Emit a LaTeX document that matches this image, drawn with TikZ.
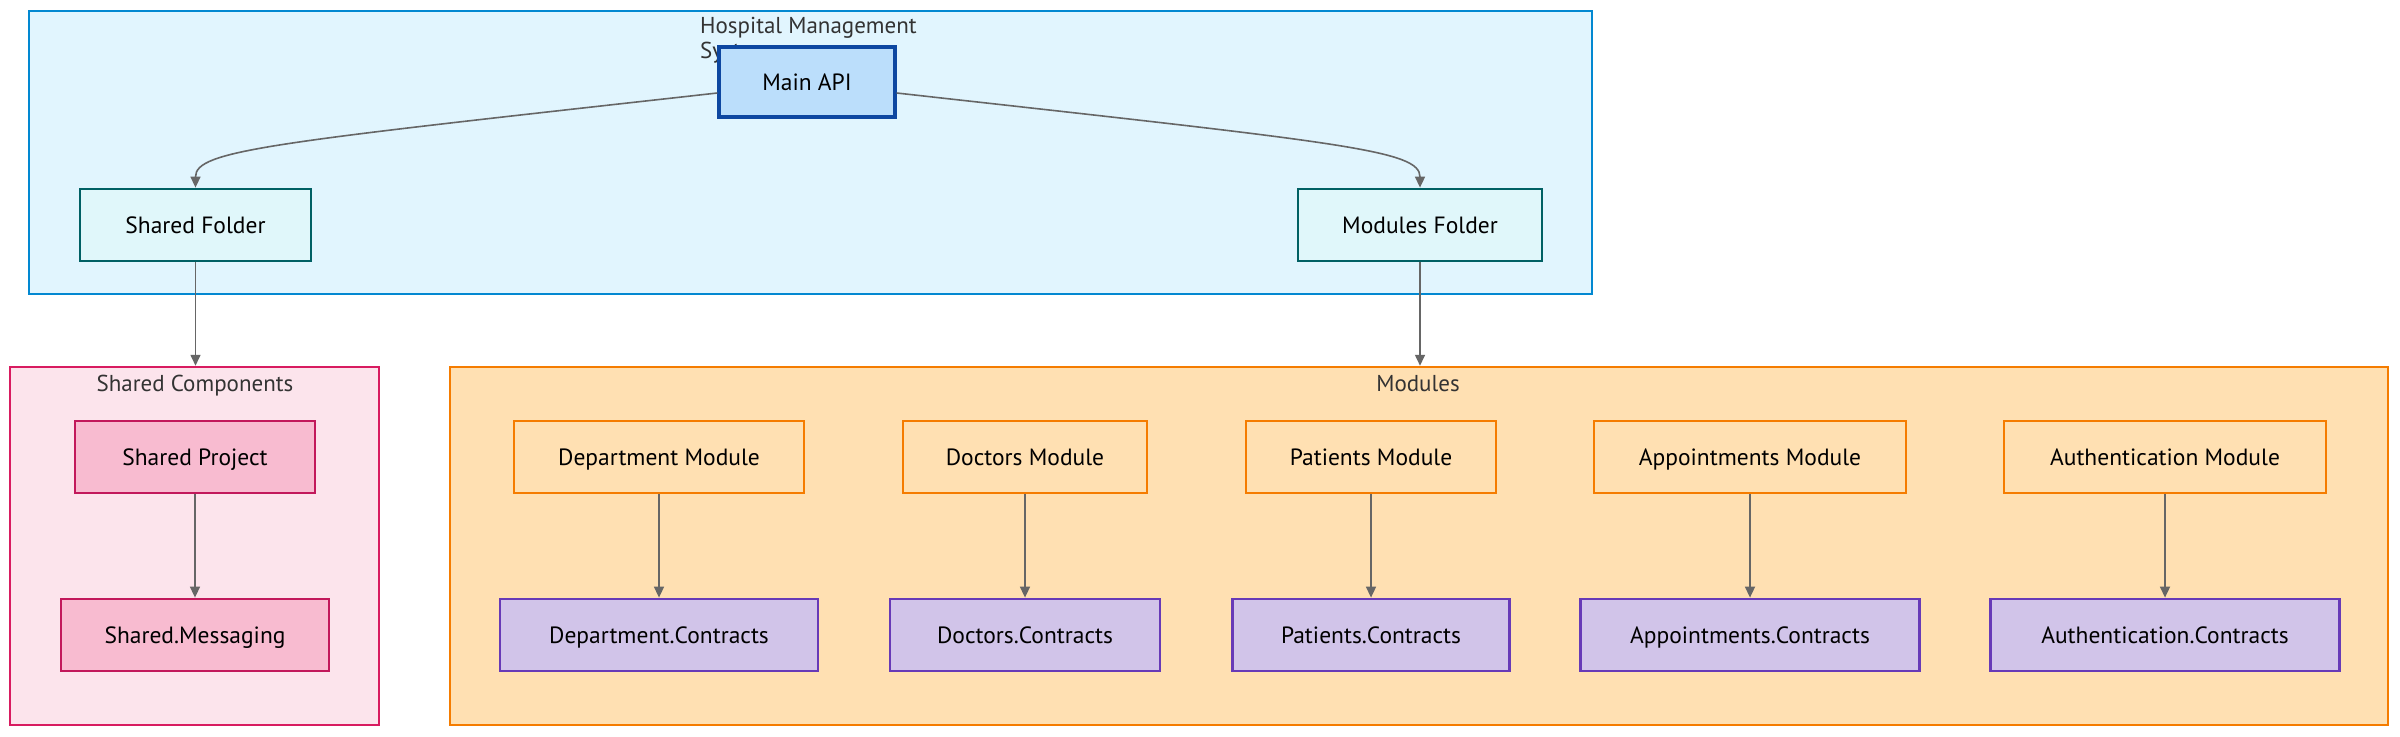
\documentclass[tikz,border=0pt]{standalone}
\usepackage{fontspec}
\setmainfont{PT Sans}
\usetikzlibrary{arrows.meta,calc}
\definecolor{hmsfill}{HTML}{E1F5FE}
\definecolor{hmsdraw}{HTML}{0288D1}
\definecolor{mainfill}{HTML}{BBDEFB}
\definecolor{maindraw}{HTML}{0D47A1}
\definecolor{folderfill}{HTML}{E0F7FA}
\definecolor{folderdraw}{HTML}{006064}
\definecolor{scfill}{HTML}{FCE4EC}
\definecolor{scdraw}{HTML}{D81B60}
\definecolor{spfill}{HTML}{F8BBD0}
\definecolor{spdraw}{HTML}{C2185B}
\definecolor{modfill}{HTML}{FFE0B2}
\definecolor{moddraw}{HTML}{F57C00}
\definecolor{ctfill}{HTML}{D1C4E9}
\definecolor{ctdraw}{HTML}{673AB7}
\definecolor{edgecol}{HTML}{666666}
\definecolor{titlecol}{HTML}{333333}
\begin{document}
\begin{tikzpicture}[x=1pt,y=-1pt,
  cluster/.style={draw, line width=2.5pt, inner sep=0pt},
  box/.style={draw, line width=2.8pt, inner sep=0pt, minimum height=72pt,
    font=\fontsize{23.5}{27}\selectfont, text=black, text height=18pt, text depth=2pt},
  mainbox/.style={box, fill=mainfill, draw=maindraw, line width=3.2pt},
  folderbox/.style={box, fill=folderfill, draw=folderdraw},
  spbox/.style={box, fill=spfill, draw=spdraw},
  modbox/.style={box, fill=modfill, draw=moddraw},
  ctbox/.style={box, fill=ctfill, draw=ctdraw},
  ctitle/.style={font=\fontsize{23}{25}\selectfont, text=titlecol, inner sep=0pt},
  edge/.style={draw=edgecol, line width=1.6pt, -{Triangle[length=11pt,width=10pt]}}
]
\useasboundingbox (0,0) rectangle (2400,736);
\fill[white] (0,0) rectangle (2400,736);

% clusters
\node[cluster, fill=hmsfill, draw=hmsdraw, minimum width=1563pt, minimum height=283pt] (hms) at (810.5,152.5) {};
\node[cluster, fill=scfill, draw=scdraw, minimum width=369pt, minimum height=358pt] (scc) at (194.5,546) {};
\node[cluster, fill=modfill, draw=moddraw, minimum width=1938pt, minimum height=358pt] (modc) at (1419,546) {};

% cluster titles
\node[ctitle, anchor=north west, align=left, font=\fontsize{23}{25}\selectfont] (hmst) at (700,17) {Hospital Management\\System};
\node[ctitle, text height=18pt, text depth=2pt] (sct) at (195,383) {Shared Components};
\node[ctitle, text height=18pt, text depth=2pt] (modt) at (1418,383) {Modules};

% nodes
\node[mainbox, minimum width=176pt, minimum height=70pt] (main) at (807,82) {Main API};
\node[folderbox, minimum width=231pt] (sf) at (195.5,225) {Shared Folder};
\node[folderbox, minimum width=244pt] (mf) at (1420,225) {Modules Folder};

\node[spbox, minimum width=240pt] (sp) at (195,457) {Shared Project};
\node[spbox, minimum width=268pt] (sm) at (195,635) {Shared.Messaging};

\node[modbox, minimum width=290pt] (dm) at (659,457) {Department Module};
\node[ctbox, minimum width=318pt] (dc) at (659,635) {Department.Contracts};
\node[modbox, minimum width=244pt] (docm) at (1025,457) {Doctors Module};
\node[ctbox, minimum width=270pt] (docc) at (1025,635) {Doctors.Contracts};
\node[modbox, minimum width=250pt] (pm) at (1371,457) {Patients Module};
\node[ctbox, minimum width=277pt] (pc) at (1371,635) {Patients.Contracts};
\node[modbox, minimum width=312pt] (am) at (1750,457) {Appointments Module};
\node[ctbox, minimum width=339pt] (ac) at (1750,635) {Appointments.Contracts};
\node[modbox, minimum width=322pt] (aum) at (2165,457) {Authentication Module};
\node[ctbox, minimum width=349pt] (auc) at (2165,635) {Authentication.Contracts};

% edges
\draw[edge] ($(main.west)+(0,11)$) .. controls (269,143) and (195.5,150) .. (sf.north);
\draw[edge] ($(main.east)+(0,11)$) .. controls (1345,143) and (1420,150) .. (mf.north);
\draw[edge] (sf.south) -- (sf.south |- scc.north);
\draw[edge] (mf.south) -- (mf.south |- modc.north);
\draw[edge] (sp) -- (sm);
\draw[edge] (dm) -- (dc);
\draw[edge] (docm) -- (docc);
\draw[edge] (pm) -- (pc);
\draw[edge] (am) -- (ac);
\draw[edge] (aum) -- (auc);
\end{tikzpicture}
\end{document}
